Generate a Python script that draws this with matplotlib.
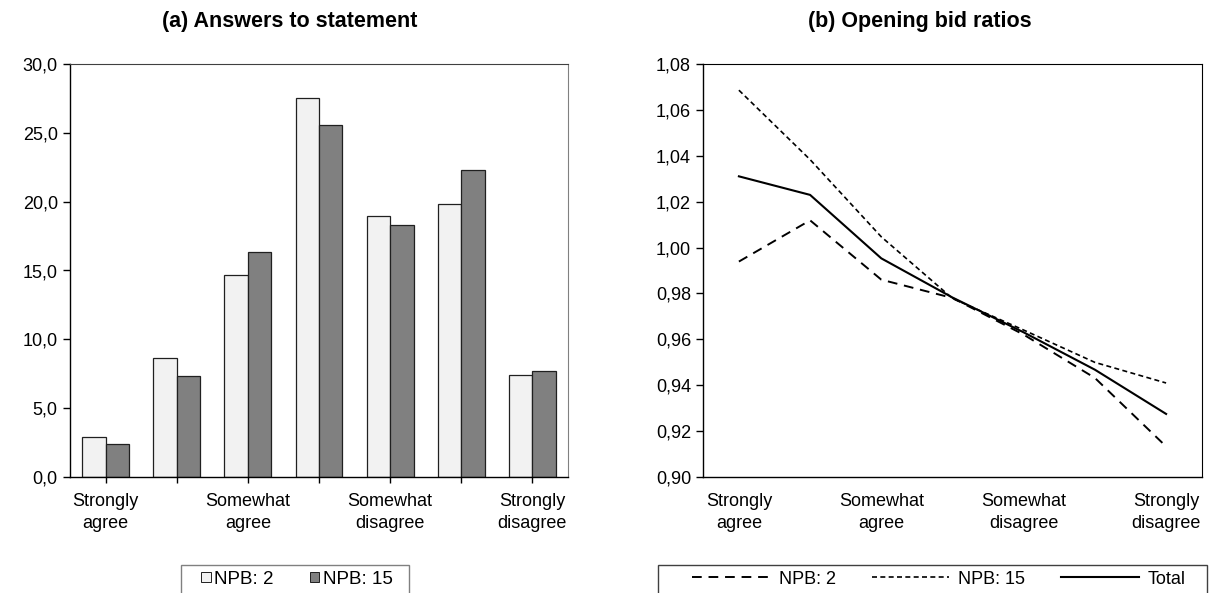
import matplotlib
matplotlib.use("Agg")
import matplotlib.pyplot as plt
from matplotlib.patches import Rectangle, Patch
from matplotlib.lines import Line2D
from matplotlib.ticker import FuncFormatter, MultipleLocator

plt.rcParams['font.family'] = ['Liberation Sans', 'DejaVu Sans']

categories = ["Strongly\nagree", "", "Somewhat\nagree", "", "Somewhat\ndisagree", "", "Strongly\ndisagree"]
answers_npb2 = [2.89, 8.67, 14.68, 27.52, 19.00, 19.85, 7.40]
answers_npb15 = [2.40, 7.33, 16.36, 25.61, 18.28, 22.33, 7.72]

ratio_npb2 = [0.9939, 1.0119, 0.9860, 0.9780, 0.9620, 0.9431, 0.9132]
ratio_npb15 = [1.0687, 1.0384, 1.0047, 0.9778, 0.9640, 0.9499, 0.9409]
ratio_total = [1.0311, 1.0230, 0.9953, 0.9782, 0.9630, 0.9467, 0.9274]

W, H = 1216, 593
fig = plt.figure(figsize=(W / 100, H / 100), dpi=100)

FS = 13
DASH_LONG = (0, (5, 3.5))
DASH_SHORT = (0, (3, 2))

def setup_axes(ax):
    for s in ['left', 'bottom']:
        ax.spines[s].set_color('black')
        ax.spines[s].set_linewidth(1.0)
    ax.spines['top'].set_color('#404040')
    ax.spines['right'].set_color('#808080')
    ax.tick_params(axis='y', direction='out', length=4.8, width=1, labelsize=FS, pad=4)

# ---- Left: bar chart
ax1 = fig.add_axes([70 / W, 1 - 476.7 / H, 498 / W, 412.4 / H])
x = list(range(len(categories)))
bw = 0.33
ax1.bar([i - bw / 2 for i in x], answers_npb2, width=bw, color='#F2F2F2',
        edgecolor='#202020', linewidth=0.9, label='NPB: 2')
ax1.bar([i + bw / 2 for i in x], answers_npb15, width=bw, color='#808080',
        edgecolor='#202020', linewidth=0.9, label='NPB: 15')
ax1.set_xlim(-0.5, 6.5)
ax1.set_ylim(0, 30)
ax1.yaxis.set_major_locator(MultipleLocator(5))
ax1.yaxis.set_major_formatter(FuncFormatter(lambda v, p: f"{v:.1f}".replace('.', ',')))
ax1.set_xticks(x)
ax1.set_xticklabels(categories, fontsize=FS, linespacing=1.35)
ax1.tick_params(axis='x', direction='out', length=4.5, width=1, pad=7.5)
setup_axes(ax1)

# ---- Right: line chart
ax2 = fig.add_axes([703.3 / W, 1 - 476.7 / H, 498.4 / W, 412.4 / H])
ax2.plot(x, ratio_npb2, color='black', lw=1.4, linestyle=DASH_LONG, label='NPB: 2')
ax2.plot(x, ratio_npb15, color='black', lw=1.2, linestyle=DASH_SHORT, label='NPB: 15')
ax2.plot(x, ratio_total, color='black', lw=1.5, linestyle='-', label='Total')
ax2.set_xlim(-0.5, 6.5)
ax2.set_ylim(0.90, 1.08)
ax2.yaxis.set_major_locator(MultipleLocator(0.02))
ax2.yaxis.set_major_formatter(FuncFormatter(lambda v, p: f"{v:.2f}".replace('.', ',')))
ax2.set_xticks(x)
ax2.set_xticklabels(categories, fontsize=FS, linespacing=1.35)
ax2.tick_params(axis='x', length=0, pad=12)
setup_axes(ax2)
ax2.spines['right'].set_color('black')
ax2.spines['top'].set_color('black')

# ---- Titles
fig.text(290 / W, 1 - 22 / H, "(a) Answers to statement", ha='center', va='center',
         fontsize=15.5, fontweight='bold')
fig.text(920 / W, 1 - 22 / H, "(b) Opening bid ratios", ha='center', va='center',
         fontsize=15.5, fontweight='bold')

# ---- Legends (boxes extend beyond bottom of the figure)
top_y = 1 - 565 / H
fig.add_artist(Rectangle((181 / W, -0.05), (409 - 181) / W, top_y + 0.05,
                         transform=fig.transFigure, fill=False, edgecolor='#808080', lw=1.0))
fig.add_artist(Rectangle((658 / W, -0.05), (1207 - 658) / W, top_y + 0.05,
                         transform=fig.transFigure, fill=False, edgecolor='#404040', lw=1.0))

h1 = [Patch(facecolor='#F2F2F2', edgecolor='#202020', lw=0.7),
      Patch(facecolor='#808080', edgecolor='#202020', lw=0.7)]
fig.legend(h1, ['NPB: 2', 'NPB: 15'], loc='center', bbox_to_anchor=(297 / W, 1 - 579 / H),
           ncol=2, frameon=False, fontsize=FS + 0.5, handlelength=0.5, handleheight=0.5,
           handletextpad=0.2, columnspacing=1.9, borderpad=0)

h2 = [Line2D([], [], color='black', lw=1.4, linestyle=DASH_LONG),
      Line2D([], [], color='black', lw=1.2, linestyle=DASH_SHORT),
      Line2D([], [], color='black', lw=1.5)]
fig.legend(h2, ['NPB: 2', 'NPB: 15', 'Total'], loc='center', bbox_to_anchor=(939 / W, 1 - 579 / H),
           ncol=3, frameon=False, fontsize=FS, handlelength=4.3,
           handletextpad=0.5, columnspacing=2.0, borderpad=0)

fig.savefig("out.png", dpi=100)
